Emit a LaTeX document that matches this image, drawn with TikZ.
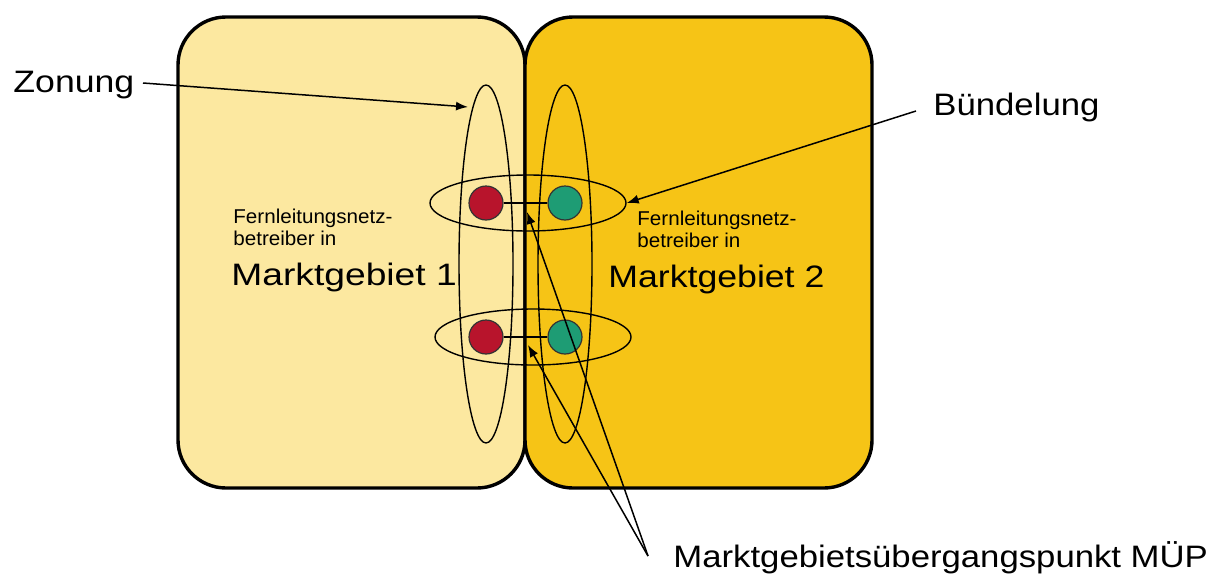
\documentclass[tikz,border=0pt]{standalone}
\usepackage{fontspec}
\setmainfont{Liberation Sans}
\usetikzlibrary{shapes.geometric,arrows.meta}
\definecolor{lightbox}{HTML}{FCE8A0}
\definecolor{darkbox}{HTML}{F6C416}
\definecolor{redpt}{HTML}{B8142C}
\definecolor{greenpt}{HTML}{1E9C74}
\newcommand{\bigtxt}[2][1.12]{\scalebox{#1}[1]{\fontsize{15.5pt}{18pt}\selectfont #2}}
\newcommand{\smalltxt}[1]{\scalebox{1.03}[1]{\fontsize{10pt}{12pt}\selectfont #1}}
\begin{document}
\begin{tikzpicture}[x=0.5pt,y=-0.5pt,
 area/.style={draw=black, line width=1.7pt, rounded corners=24pt, minimum width=173.5pt, minimum height=235.5pt, inner sep=0},
 zone/.style={draw=black, line width=0.7pt, ellipse, inner sep=0},
 pt/.style={circle, draw=black!80, line width=0.6pt, minimum size=17pt, inner sep=0},
 lbl/.style={anchor=base west, inner sep=0, text=black},
 pointer/.style={draw=black, line width=0.75pt, -{Latex[length=6pt,width=4.5pt]}}
]
\useasboundingbox (0,0) rectangle (1218,578);
% market areas
\node[area, fill=lightbox] (mg1) at (351.5,252.5) {};
\node[area, fill=darkbox] (mg2) at (698.5,252.5) {};
% zoning / bundling ellipses
\node[zone, minimum width=27pt, minimum height=179pt] (zl) at (486,264) {};
\node[zone, minimum width=27pt, minimum height=179pt] (zr) at (565,264) {};
\node[zone, minimum width=98pt, minimum height=28pt] (bu) at (528,203) {};
\node[zone, minimum width=98pt, minimum height=28pt] (bl) at (533,337) {};
% points
\node[pt, fill=redpt] (r1) at (486,203) {};
\node[pt, fill=greenpt] (g1) at (565,203) {};
\node[pt, fill=redpt] (r2) at (486,337) {};
\node[pt, fill=greenpt] (g2) at (565,337) {};
\draw[line width=0.75pt] (r1) -- (g1);
\draw[line width=0.75pt] (r2) -- (g2);
% texts
\node[lbl] (zon) at (13,92) {\bigtxt[1.15]{Zonung}};
\node[lbl] (bue) at (933,115) {\bigtxt{Bündelung}};
\node[lbl] (mup) at (673,567) {\bigtxt{Marktgebietsübergangspunkt MÜP}};
\node[lbl] (f1a) at (233,223) {\smalltxt{Fernleitungsnetz-}};
\node[lbl] (f1b) at (233,245) {\smalltxt{betreiber in}};
\node[lbl] (m1t) at (231,285) {\bigtxt[1.2]{Marktgebiet 1}};
\node[lbl] (f2a) at (637,225) {\smalltxt{Fernleitungsnetz-}};
\node[lbl] (f2b) at (637,247) {\smalltxt{betreiber in}};
\node[lbl] (m2t) at (608,287) {\bigtxt[1.15]{Marktgebiet 2}};
% arrows
\coordinate (zs) at (143,83);
\coordinate (zt) at (468,107);
\draw[pointer] (zs) -- (zt);
\coordinate (bs) at (916,111);
\draw[pointer] (bs) -- (bu.east);
\coordinate (ms) at (648,556);
\coordinate (mt1) at (527,212);
\coordinate (mt2) at (528,345);
\draw[pointer] (ms) -- (mt1);
\draw[pointer] (ms) -- (mt2);
\end{tikzpicture}
\end{document}
